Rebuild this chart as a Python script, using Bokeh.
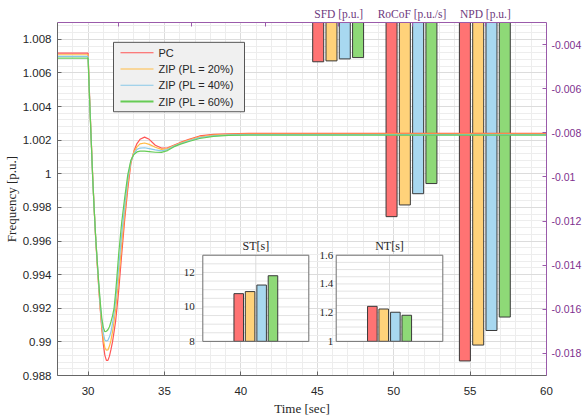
import numpy as np
from bokeh.plotting import figure
from bokeh.models import (Range1d, LinearAxis, SingleIntervalTicker, FixedTicker,
                          CustomJSTickFormatter, ColumnDataSource)
from bokeh.core.properties import value
from bokeh.embed import file_html
from bokeh.resources import INLINE

# ---------------- data ----------------
time_s = [28, 30.0, 30.1, 30.2, 30.3, 30.4, 30.5, 30.6, 30.7, 30.8, 30.9, 31.0, 31.1,
          31.2, 31.3, 31.4, 31.5, 31.6, 31.7, 31.8, 31.9, 32.0, 32.2, 32.4, 32.6, 32.8,
          33.0, 33.2, 33.4, 33.7, 34.0, 34.4, 34.8, 35.2, 35.6, 36.0, 36.6, 37.3, 38.2,
          39.2, 40.5, 45, 50, 55, 60]
freq_pc = [1.00718, 1.00718, 1.0046, 1.0022, 0.9999, 0.9979, 0.9961, 0.9946, 0.9932, 0.9919,
           0.99075, 0.98985, 0.9892, 0.9889, 0.9889, 0.98915, 0.98955, 0.9900, 0.9906, 0.9912,
           0.9921, 0.9930, 0.9952, 0.9973, 0.9991, 1.0006, 1.00135, 1.0018, 1.00205, 1.00218,
           1.00205, 1.0017, 1.00153, 1.00155, 1.0017, 1.00185, 1.00205, 1.00225, 1.00235,
           1.00238, 1.0024, 1.0024, 1.0024, 1.0024, 1.0024]
freq_zip20 = [1.00708, 1.00708, 1.0045, 1.0022, 0.9999, 0.9979, 0.9962, 0.9947, 0.9933, 0.9920,
              0.99095, 0.99015, 0.98965, 0.9895, 0.98952, 0.98975, 0.9901, 0.9906, 0.9912, 0.9919,
              0.9928, 0.9937, 0.9958, 0.9977, 0.9994, 1.0007, 1.0013, 1.0016, 1.00178, 1.00183,
              1.00175, 1.00158, 1.00145, 1.0015, 1.00167, 1.00182, 1.0020, 1.0022, 1.0023,
              1.00234, 1.00236, 1.00236, 1.00236, 1.00236, 1.00236]
freq_zip40 = [1.00698, 1.00698, 1.0045, 1.0021, 0.9998, 0.9979, 0.9962, 0.9948, 0.9934, 0.99215,
              0.9912, 0.9905, 0.9901, 0.99005, 0.9901, 0.9903, 0.9906, 0.9911, 0.9917, 0.9924,
              0.9934, 0.9944, 0.9964, 0.9981, 0.9997, 1.00075, 1.0012, 1.00145, 1.00153, 1.00155,
              1.0015, 1.00142, 1.00136, 1.00144, 1.00163, 1.00178, 1.00196, 1.00215, 1.00226,
              1.00231, 1.00233, 1.00233, 1.00233, 1.00233, 1.00233]
freq_zip60 = [1.00688, 1.00688, 1.0044, 1.0021, 0.9998, 0.9979, 0.9962, 0.9948, 0.9935, 0.99235,
              0.9914, 0.99085, 0.9906, 0.99063, 0.99072, 0.9909, 0.9912, 0.99155, 0.9920, 0.9929,
              0.9940, 0.9952, 0.9971, 0.9986, 0.99995, 1.0008, 1.00115, 1.0013, 1.00135, 1.00135,
              1.00132, 1.00128, 1.00127, 1.00138, 1.0016, 1.00175, 1.00192, 1.0021, 1.00222,
              1.00228, 1.0023, 1.0023, 1.0023, 1.0023, 1.0023]

series_names = ["PC", "ZIP (PL = 20%)", "ZIP (PL = 40%)", "ZIP (PL = 60%)"]
metric_names = ["SFD [p.u.]", "RoCoF [p.u./s]", "NPD [p.u.]"]
sfd_values = [-0.00478, -0.00474, -0.00465, -0.00459]
rocof_values = [-0.0118, -0.01127, -0.01076, -0.0103]
npd_values = [-0.01834, -0.01762, -0.01696, -0.01635]
st_values = [10.77, 10.89, 11.27, 11.81]
nt_values = [1.244, 1.2255, 1.203, 1.182]
st_ticks = [8, 10, 12]
nt_ticks = [1, 1.2, 1.4, 1.6]

# ---------------- layout / style ----------------
W, H = 585, 418
FL, FR, FT, FB = 57, 546, 22, 378
line_colors = ["#FF5555", "#FFBB44", "#88C8E8", "#66CC55"]
bar_colors = ["#FF7373", "#FFD27A", "#A8D8F0", "#8ED977"]
PURPLE = "#7E2F8E"
PURPLE_LINE = "#9A5AAA"
TXT = "#262626"
SERIF = "Liberation Serif"
SANS = "Liberation Sans"

bar_axis_ticks = [32.0, 36.8, 41.6, 46.4, 51.2, 56.0]
group_centers = bar_axis_ticks[3:]
bar_axis_labels = ["", "", ""] + metric_names
bar_offsets = [-1.34, -0.47, 0.40, 1.27]
bar_width = 0.72
inset_offsets = [-0.161, -0.054, 0.055, 0.162]
inset_bar_width = 0.09

fmt = CustomJSTickFormatter(code="return String(parseFloat(tick.toFixed(4)));")

p = figure(width=W, height=H, x_range=Range1d(28, 60), y_range=Range1d(0.988, 1.009),
           output_backend="svg", toolbar_location=None,
           min_border_left=FL, min_border_right=W - FR, min_border_top=FT,
           min_border_bottom=H - FB, background_fill_color="white", border_fill_color="white")
p.outline_line_color = None
p.extra_y_ranges = {"right": Range1d(-0.019, -0.003),
                    "py": Range1d(FB, FT)}
p.extra_x_ranges = {"px": Range1d(FL, FR)}


def screen_range(lo, hi, p0, p1, f0, f1):
    s = (hi - lo) / (p1 - p0)
    return Range1d(start=lo - (p0 - f0) * s, end=hi + (f1 - p1) * s)


# inset boxes in pixels: (left, right, top, bottom)
ST_BOX = (202.3, 308.3, 256.7, 343.6)
NT_BOX = (335.7, 442.3, 256.7, 343.6)
p.extra_x_ranges["st_x"] = screen_range(0.5, 1.5, ST_BOX[0] - FL, ST_BOX[1] - FL, 0, FR - FL)
p.extra_x_ranges["nt_x"] = screen_range(0.5, 1.5, NT_BOX[0] - FL, NT_BOX[1] - FL, 0, FR - FL)
p.extra_y_ranges["st_y"] = screen_range(8, 13, FB - ST_BOX[3], FB - ST_BOX[2], 0, FB - FT)
p.extra_y_ranges["nt_y"] = screen_range(1, 1.6, FB - NT_BOX[3], FB - NT_BOX[2], 0, FB - FT)

# main axes
xax = p.below[0]
xax.ticker = SingleIntervalTicker(interval=5, num_minor_ticks=5)
yax = p.left[0]
yax.ticker = SingleIntervalTicker(interval=0.002, num_minor_ticks=5)
yax.formatter = fmt
for ax in (xax, yax):
    ax.axis_line_color = "#666666"
    ax.major_tick_line_color = "#666666"
    ax.major_tick_in = 4
    ax.major_tick_out = 0
    ax.minor_tick_line_color = None
    ax.major_label_text_font = SANS
    ax.major_label_text_font_size = "11.5px"
    ax.major_label_text_color = TXT
    ax.axis_label_text_font = SERIF
    ax.axis_label_text_font_size = "13px"
    ax.axis_label_text_font_style = "normal"
    ax.axis_label_text_color = TXT
xax.axis_label = "Time [sec]"
xax.major_label_standoff = 7
xax.axis_label_standoff = 3
yax.axis_label = "Frequency [p.u.]"
yax.major_label_standoff = 2
yax.axis_label_standoff = 1

p.xgrid.grid_line_color = "#dcdcdc"
p.ygrid.grid_line_color = "#dcdcdc"
p.xgrid.minor_grid_line_color = "#ededed"
p.ygrid.minor_grid_line_color = "#ededed"

rax = LinearAxis(y_range_name="right", ticker=SingleIntervalTicker(interval=0.002),
                 formatter=fmt)
rax.axis_line_color = PURPLE_LINE
rax.major_tick_line_color = PURPLE_LINE
rax.major_tick_in = 4
rax.major_tick_out = 0
rax.minor_tick_line_color = None
rax.major_label_text_color = PURPLE
rax.major_label_text_font = SANS
rax.major_label_text_font_size = "10.5px"
rax.major_label_standoff = 1
rax.axis_label_standoff = 0
p.add_layout(rax, "right")

top_fmt = CustomJSTickFormatter(
    args=dict(tick_pos=bar_axis_ticks, tick_names=bar_axis_labels),
    code="const i = tick_pos.findIndex(t => Math.abs(t - tick) < 1e-6); return i >= 0 ? tick_names[i] : '';")
tax = LinearAxis(ticker=FixedTicker(ticks=bar_axis_ticks), formatter=top_fmt)
tax.axis_line_color = PURPLE_LINE
tax.major_tick_line_color = PURPLE_LINE
tax.major_tick_in = 4
tax.major_tick_out = 0
tax.minor_tick_line_color = None
tax.major_label_text_font = SERIF
tax.major_label_text_font_size = "11.5px"
tax.major_label_text_color = "#6E3A7E"
tax.major_label_standoff = 3
tax.axis_label_standoff = 0
p.add_layout(tax, "above")

# top bars (hanging from zero on the right axis)
bx, bb, bc = [], [], []
for gc, vals in zip(group_centers, [sfd_values, rocof_values, npd_values]):
    for off, v, c in zip(bar_offsets, vals, bar_colors):
        bx.append(gc + off)
        bb.append(v)
        bc.append(c)
p.vbar(x="x", width=bar_width, top=0, bottom="b", fill_color="c", line_color="#3a3a3a",
       line_width=1, y_range_name="right", source=ColumnDataSource(dict(x=bx, b=bb, c=bc)))

# frequency lines
for ys, c in zip([freq_pc, freq_zip20, freq_zip40, freq_zip60], line_colors):
    p.line(time_s, ys, line_color=c, line_width=1.2)


# insets
def draw_inset(xr, yr, lo, hi, ticks, minor, vals, title, label_off):
    kw = dict(x_range_name=xr, y_range_name=yr)
    p.quad(left=0.5, right=1.5, bottom=lo, top=hi, fill_color="white", line_color=None, **kw)
    gy = list(np.arange(lo + minor, hi - minor / 2, minor))
    p.segment(x0=[0.5] * len(gy), x1=[1.5] * len(gy), y0=gy, y1=gy,
              line_color="#e3e3e3", line_width=1, **kw)
    p.segment(x0=[1], x1=[1], y0=[lo], y1=[hi], line_color="#dcdcdc", line_width=1, **kw)
    p.vbar(x=[1 + o for o in inset_offsets], width=inset_bar_width, bottom=lo, top=vals,
           fill_color=bar_colors, line_color="#3a3a3a", line_width=1, **kw)
    p.quad(left=0.5, right=1.5, bottom=lo, top=hi, fill_color=None, line_color="#707070",
           line_width=1, **kw)
    p.text(x=[0.5] * len(ticks), y=ticks, text=[str(t) for t in ticks], x_offset=label_off,
           text_align="right", text_baseline="middle", text_font=value(SERIF),
           text_font_size="11px", text_color=TXT, **kw)
    p.text(x=[1], y=[hi], text=[title], y_offset=-2, text_align="center",
           text_baseline="bottom", text_font=value(SERIF), text_font_size="12px",
           text_color=TXT, **kw)


draw_inset("st_x", "st_y", 8, 13, st_ticks, 0.5, st_values, "ST[s]", -8)
draw_inset("nt_x", "nt_y", 1, 1.6, nt_ticks, 0.05, nt_values, "NT[s]", -3)

# legend box (pixel-space layout)
LG_L, LG_R, LG_T, LG_B = 113, 244, 42, 112
LG_ROW0, LG_ROWH = 52.5, 16.4
LG_LINE0, LG_LINE1, LG_TEXT = 120, 153, 158
lkw = dict(x_range_name="px", y_range_name="py")
p.quad(left=LG_L, right=LG_R, top=LG_T, bottom=LG_B, fill_color="#f0f0f0",
       line_color="#555555", line_width=1, **lkw)
rows = [LG_ROW0 + i * LG_ROWH for i in range(len(series_names))]
p.segment(x0=[LG_LINE0] * 4, x1=[LG_LINE1] * 4, y0=rows, y1=rows, line_color=line_colors,
          line_width=[1.2, 1.2, 1.2, 2.0], **lkw)
p.text(x=[LG_TEXT] * 4, y=rows, text=series_names, text_align="left", text_baseline="middle",
       text_font=value(SANS), text_font_size="11px", text_color=TXT, **lkw)

open("out.html", "w").write(file_html(p, INLINE))
